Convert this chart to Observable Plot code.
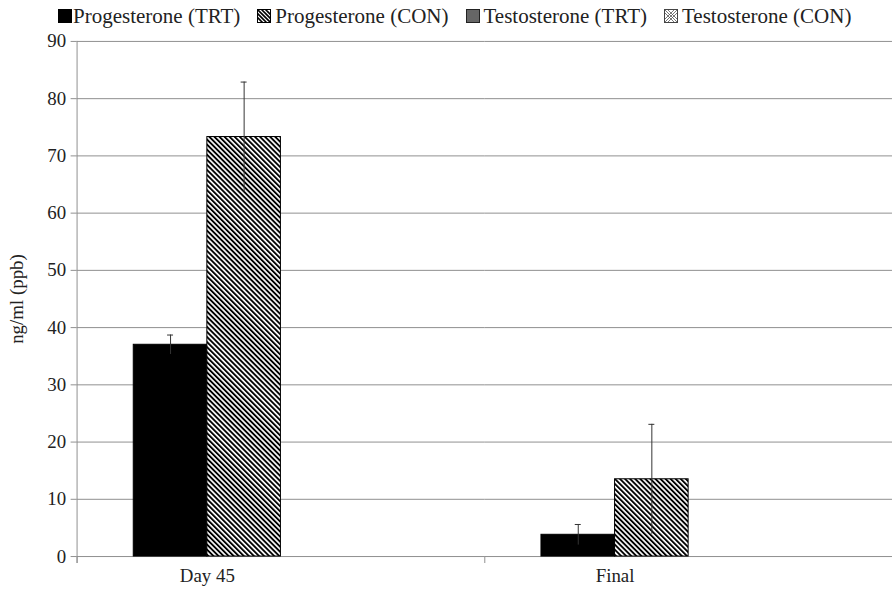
<!DOCTYPE html>
<html>
<head>
<meta charset="utf-8">
<script src="https://cdn.jsdelivr.net/npm/d3@7"></script>
<script src="https://cdn.jsdelivr.net/npm/@observablehq/plot@0.6"></script>
<style>
  body { margin: 0; background: #fff; overflow: hidden; font-family: "Liberation Serif", serif; color: #222; }
  #legend { height: 30px; display: flex; align-items: flex-start; padding-left: 58px; box-sizing: border-box; font-family: "Liberation Serif", serif; font-size: 21px; line-height: 21px; padding-top: 6px; white-space: nowrap; }
  #legend .item { display: flex; align-items: center; margin-right: 17px; }
  #legend svg { margin-right: 4px; margin-top: -1px; }
  #legend .item:first-child svg { margin-right: 1px; }
</style>
</head>
<body>
<div id="legend"></div>
<div id="chart"></div>
<script>
const categories = ["Day 45", "Final"];
const series = ["Progesterone (TRT)", "Progesterone (CON)", "Testosterone (TRT)", "Testosterone (CON)"];
const progesteroneTRT = [37.0, 3.8];
const progesteroneTRTErr = [1.7, 1.8];
const progesteroneCON = [73.3, 13.5];
const progesteroneCONErr = [9.6, 9.6];
const testosteroneTRT = [null, null];
const testosteroneTRTErr = [null, null];
const testosteroneCON = [null, null];
const testosteroneCONErr = [null, null];
const yTicks = [0, 10, 20, 30, 40, 50, 60, 70, 80, 90];

const valueSets = [progesteroneTRT, progesteroneCON, testosteroneTRT, testosteroneCON];
const errSets = [progesteroneTRTErr, progesteroneCONErr, testosteroneTRTErr, testosteroneCONErr];
const rows = [];
categories.forEach((c, i) => {
  series.forEach((s, j) => {
    if (valueSets[j][i] != null) rows.push({category: c, series: s, value: valueSets[j][i], err: errSets[j][i]});
  });
});

// Legend
const swatches = [
  `<svg width="14" height="14"><rect x="0.5" y="0.5" width="13" height="13" fill="#000" stroke="#000"/></svg>`,
  `<svg width="14" height="14"><defs><clipPath id="lc"><rect x="0" y="0" width="14" height="14"/></clipPath></defs><rect x="0.5" y="0.5" width="13" height="13" fill="#fff" stroke="#000"/><g clip-path="url(#lc)" stroke="#000" stroke-width="1.6"><line x1="-4" y1="0" x2="10" y2="14"/><line x1="0" y1="0" x2="14" y2="14"/><line x1="4" y1="0" x2="18" y2="14"/><line x1="-8" y1="0" x2="6" y2="14"/><line x1="8" y1="0" x2="22" y2="14"/></g></svg>`,
  `<svg width="14" height="14"><rect x="0.5" y="0.5" width="13" height="13" fill="#666" stroke="#222"/></svg>`,
  `<svg width="14" height="14"><rect x="0.5" y="0.5" width="13" height="13" fill="#fff" stroke="#444"/><g stroke="#555" stroke-width="0.8"><line x1="1" y1="1" x2="13" y2="13"/><line x1="13" y1="1" x2="1" y2="13"/><line x1="4" y1="1" x2="13" y2="10"/><line x1="1" y1="4" x2="10" y2="13"/><line x1="10" y1="1" x2="1" y2="10"/><line x1="13" y1="4" x2="4" y2="13"/></g></svg>`
];
document.getElementById("legend").innerHTML = series.map((s, i) =>
  `<span class="item">${swatches[i]}<span>${s}</span></span>`).join("");

const gray = "#8f8f8f";
const chart = Plot.plot({
  width: 897,
  height: 570,
  marginLeft: 77,
  marginRight: 0,
  marginTop: 11,
  marginBottom: 41,
  style: {fontFamily: "Liberation Serif, serif", fontSize: "19px", color: "#222", background: "#fff"},
  fx: {domain: categories, padding: 0, axis: null},
  x: {domain: series, paddingInner: 0, paddingOuter: 0.742, axis: null},
  y: {domain: [0, 90], axis: null},
  marks: [
    Plot.gridY({ticks: yTicks.slice(1), stroke: gray, strokeOpacity: 1}),
    Plot.ruleY([0], {stroke: gray}),
    Plot.frame({anchor: "left", stroke: gray, insetBottom: -6, facetAnchor: "left"}),
    Plot.frame({anchor: "left", stroke: gray, insetTop: 518, insetBottom: -6}),
    Plot.axisY({ticks: yTicks, tickSize: 6, tickPadding: 5, stroke: gray, fill: "#222",
      label: "ng/ml (ppb)", labelAnchor: "center", labelArrow: "none", labelOffset: 68}),
    Plot.barY(rows.filter(d => d.series.endsWith("(TRT)")), {fx: "category", x: "series", y: "value", fill: "#000", stroke: "#000", strokeWidth: 1}),
    Plot.barY(rows.filter(d => d.series.endsWith("(CON)")), {fx: "category", x: "series", y: "value", fill: "url(#hatch)", stroke: "#000", strokeWidth: 1}),
    Plot.ruleX(rows, {fx: "category", x: "series", y1: d => d.value - d.err, y2: d => d.value + d.err, stroke: "#333", strokeWidth: 1}),
    Plot.tickY(rows, {fx: "category", x: "series", y: d => d.value + d.err, stroke: "#333", strokeWidth: 1, insetLeft: 34, insetRight: 34}),
    Plot.text(categories, {fx: d => d, x: () => series[1], text: d => d, frameAnchor: "bottom", dx: -37, dy: 26, fontSize: 19, fill: "#222"})
  ]
});
chart.insertAdjacentHTML("afterbegin",
  `<defs><pattern id="hatch" width="3.6" height="3.6" patternUnits="userSpaceOnUse" patternTransform="rotate(-45)"><rect width="3.6" height="3.6" fill="#fff"/><rect width="1.9" height="3.6" fill="#000"/></pattern></defs>`);
document.getElementById("chart").appendChild(chart);
</script>
</body>
</html>
